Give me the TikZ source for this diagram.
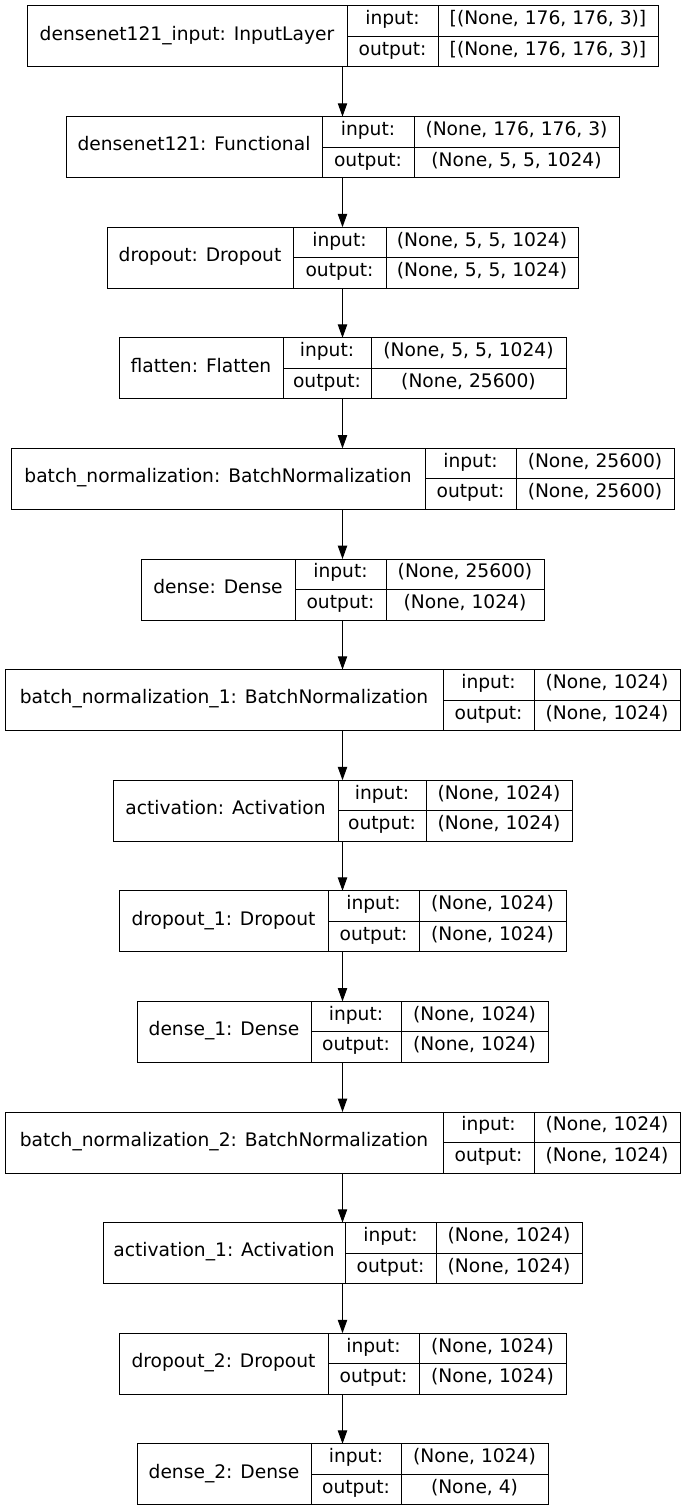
\documentclass[tikz,border=0pt]{standalone}
\usepackage{fontspec}
\setmainfont{DejaVu Sans}
\usetikzlibrary{arrows.meta}
\definecolor{LineClr}{rgb}{0,0,0}

\tikzset{
  layerbox/.style={draw=LineClr,line width=0.75pt,minimum height=45.75pt,inner sep=0pt,outer sep=0pt},
  cell/.style={font=\fontsize{14}{16}\selectfont,inner sep=0pt,text height=0.78em,text depth=0.22em},
  flow/.style={-{Triangle[length=10pt,width=7pt]},line width=0.75pt,LineClr}
}

\begin{document}
\begin{tikzpicture}[x=0.75pt,y=-0.75pt]
\useasboundingbox (0,0) rectangle (685,1512);

\foreach \i/\xl/\da/\db/\lname/\inp/\outp in {
  1/27/347/438/{densenet121\_input: InputLayer}/{[(None, 176, 176, 3)]}/{[(None, 176, 176, 3)]},
  2/66/322/414/{densenet121: Functional}/{(None, 176, 176, 3)}/{(None, 5, 5, 1024)},
  3/107/293/386/{dropout: Dropout}/{(None, 5, 5, 1024)}/{(None, 5, 5, 1024)},
  4/119/283/371/{flatten: Flatten}/{(None, 5, 5, 1024)}/{(None, 25600)},
  5/11/425/516/{batch\_normalization: BatchNormalization}/{(None, 25600)}/{(None, 25600)},
  6/141/295/386/{dense: Dense}/{(None, 25600)}/{(None, 1024)},
  7/5/443/534/{batch\_normalization\_1: BatchNormalization}/{(None, 1024)}/{(None, 1024)},
  8/113/338/426/{activation: Activation}/{(None, 1024)}/{(None, 1024)},
  9/119/328/419/{dropout\_1: Dropout}/{(None, 1024)}/{(None, 1024)},
  10/137/311/401/{dense\_1: Dense}/{(None, 1024)}/{(None, 1024)},
  11/5/443/534/{batch\_normalization\_2: BatchNormalization}/{(None, 1024)}/{(None, 1024)},
  12/103/345/436/{activation\_1: Activation}/{(None, 1024)}/{(None, 1024)},
  13/119/328/419/{dropout\_2: Dropout}/{(None, 1024)}/{(None, 1024)},
  14/137/311/401/{dense\_2: Dense}/{(None, 1024)}/{(None, 4)}}
{
  \pgfmathsetmacro\yc{36.5+110.6*(\i-1)}
  \pgfmathsetmacro\boxw{(685-2*\xl)*0.75}
  \node[layerbox,minimum width=\boxw pt] (L\i) at (342.5,\yc) {};
  \draw[LineClr,line width=0.75pt] (\da,\yc-30.5) -- (\da,\yc+30.5)
    (\db,\yc-30.5) -- (\db,\yc+30.5) (\da,\yc) -- (685-\xl,\yc);
  \node[cell] (L\i-name) at ({(\xl+\da)/2},\yc) {\lname};
  \node[cell] (L\i-in) at ({(\da+\db)/2},\yc-15.25) {input:};
  \node[cell] (L\i-out) at ({(\da+\db)/2},\yc+15.25) {output:};
  \node[cell] (L\i-inv) at ({(\db+685-\xl)/2},\yc-15.25) {\inp};
  \node[cell] (L\i-outv) at ({(\db+685-\xl)/2},\yc+15.25) {\outp};
}

\foreach \i [evaluate=\i as \j using int(\i+1)] in {1,...,13}
  \draw[flow] (L\i.south) -- (L\j.north);

\end{tikzpicture}
\end{document}
